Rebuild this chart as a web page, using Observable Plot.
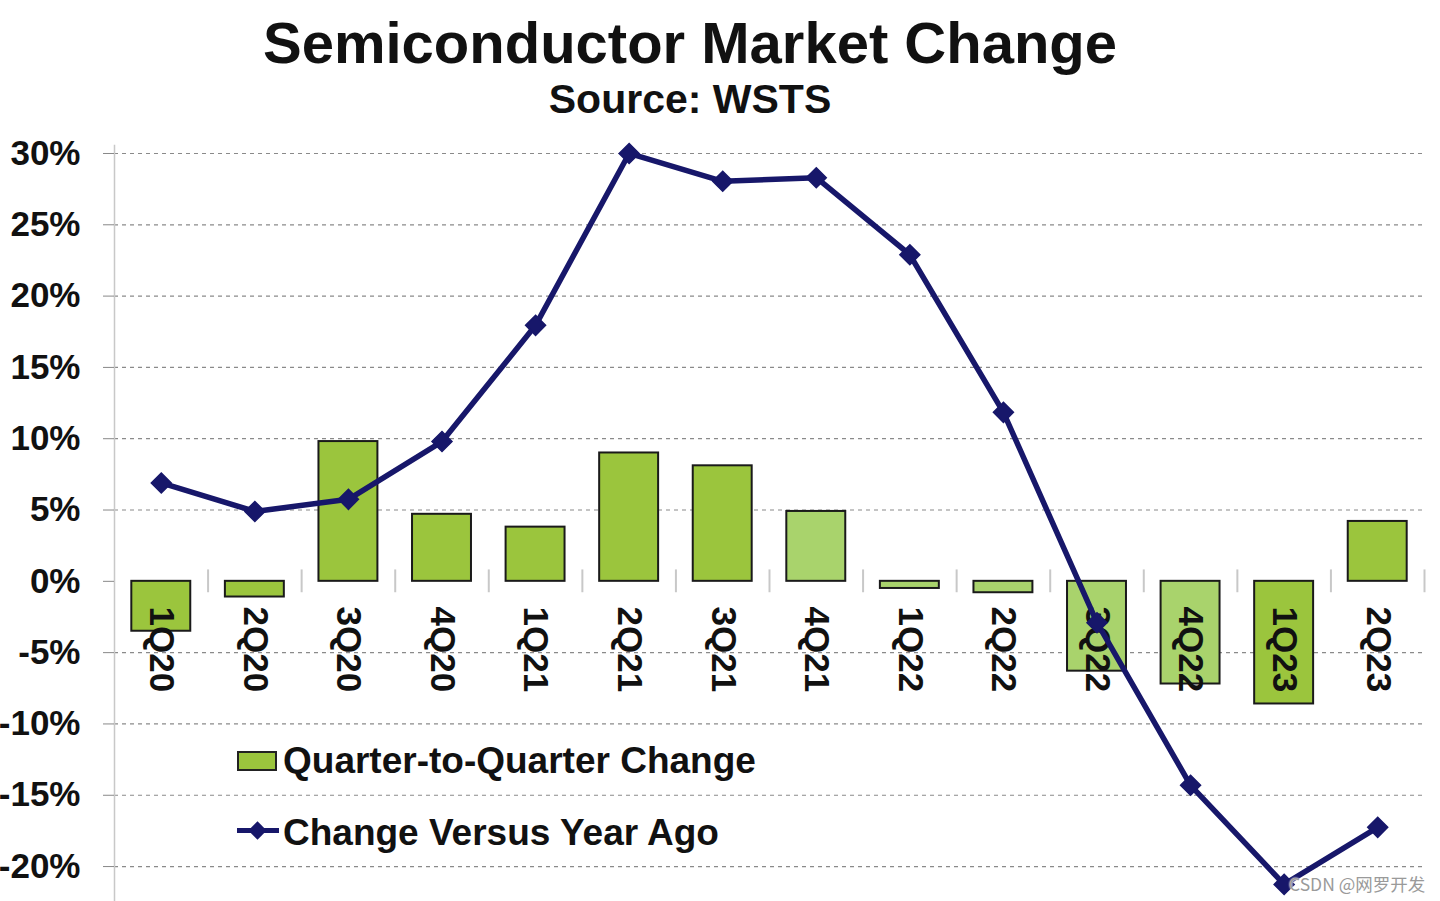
<!DOCTYPE html>
<html>
<head>
<meta charset="utf-8">
<script src="https://cdn.jsdelivr.net/npm/d3@7"></script>
<script src="https://cdn.jsdelivr.net/npm/@observablehq/plot@0.6"></script>
<style>
  body { margin: 0; background: #fff; }
  #wrap { position: relative; width: 1440px; height: 901px; overflow: hidden; font-family: "Liberation Sans", Arial, sans-serif; background: #fff; }
  .title { position: absolute; left: 0; width: 1380px; text-align: center; font-weight: bold; line-height: 1; color: #111; }
  #chart { position: absolute; left: 0; top: 125px; }
  .leg { position: absolute; font-weight: bold; font-size: 37px; line-height: 1; color: #111; white-space: nowrap; }
  #wm { position: absolute; left: 1289px; top: 871px; font-family: "Noto Sans CJK SC", "Noto Sans", sans-serif; font-size: 17.5px; color: #9a9a9a; text-shadow: 0 0 2px #fff, 0 0 2px #fff; }
</style>
</head>
<body>
<div id="wrap">
  <div class="title" id="t1" style="top:14px;font-size:58px;"></div>
  <div class="title" id="t2" style="top:79px;font-size:41px;"></div>
  <div id="chart"></div>
  <div id="legend"></div>
  <div id="wm">CSDN @网罗开发</div>
</div>
<script>
const title = "Semiconductor Market Change";
const subtitle = "Source: WSTS";
const quarters = ["1Q20","2Q20","3Q20","4Q20","1Q21","2Q21","3Q21","4Q21","1Q22","2Q22","3Q22","4Q22","1Q23","2Q23"];
const qoqChange = [-3.5, -1.1, 9.8, 4.7, 3.8, 9.0, 8.1, 4.9, -0.5, -0.8, -6.3, -7.2, -8.6, 4.2];
const yoyChange = [6.9, 4.9, 5.75, 9.8, 17.95, 30.0, 28.05, 28.3, 22.9, 11.85, -2.9, -14.3, -21.25, -17.25];
const yTicks = [-20, -15, -10, -5, 0, 5, 10, 15, 20, 25, 30];
const legendLabels = ["Quarter-to-Quarter Change", "Change Versus Year Ago"];

document.getElementById("t1").textContent = title;
document.getElementById("t2").textContent = subtitle;

const data = quarters.map((q, i) => ({q, qoq: qoqChange[i], yoy: yoyChange[i]}));

const barColor = "#9bc53d";
const barColorLight = "#a9d36c";
const lightSet = new Set(["4Q21","1Q22","2Q22","3Q22","4Q22"]);
const navy = "#17176a";
const font = "'Liberation Sans', Arial, sans-serif";

const width = 1440, height = 776;
const mL = 114, mR = 16;
const step = (width - mL - mR) / quarters.length;

const chart = Plot.plot({
  width, height,
  marginLeft: mL, marginRight: mR, marginTop: 20, marginBottom: 0,
  style: {fontFamily: font, background: "transparent", overflow: "visible"},
  x: {domain: quarters, paddingInner: 0.37, paddingOuter: 0.185, round: false, axis: null},
  y: {domain: [-22.45, 30.56], axis: null},
  marks: [
    Plot.ruleY(yTicks.filter(d => d !== 0), {stroke: "#8a8a8a", strokeWidth: 1.2, strokeDasharray: "4,4"}),
    Plot.frame({anchor: "left", stroke: "#c8c8c8", strokeWidth: 1.5}),
    Plot.axisY({ticks: yTicks, tickFormat: d => d + "%", tickSize: 11, tickPadding: 23, fontSize: 35, fontWeight: "bold", fill: "#111", stroke: "#888", label: null}),
    Plot.ruleX(quarters, {x: d => d, dx: step / 2, y1: -0.8, y2: 0.8, stroke: "#c8c8c8", strokeWidth: 2}),
    Plot.barY(data, {x: "q", y: "qoq", fill: d => lightSet.has(d.q) ? barColorLight : barColor, stroke: "#1a1a1a", strokeWidth: 2}),
    Plot.text(quarters, {x: d => d, y: -4.77, text: d => d, rotate: 90, fontSize: 35, fontWeight: "bold", fill: "#111"}),
    Plot.line(data, {x: "q", y: "yoy", stroke: navy, strokeWidth: 5.5, strokeLinejoin: "round"}),
    Plot.dot(data, {x: "q", y: "yoy", symbol: "diamond2", r: 9, fill: navy, stroke: navy})
  ]
});
document.getElementById("chart").appendChild(chart);

// Legend (inside plot area, lower left)
const leg = document.getElementById("legend");
leg.innerHTML = `
  <div style="position:absolute;left:237px;top:751px;width:40px;height:20px;box-sizing:border-box;background:${barColor};border:2px solid #222;"></div>
  <div class="leg" style="left:283px;top:742px;">${legendLabels[0]}</div>
  <div style="position:absolute;left:237px;top:828px;width:42px;height:5px;background:${navy};"></div>
  <div style="position:absolute;left:251px;top:824px;width:13px;height:13px;background:${navy};transform:rotate(45deg);"></div>
  <div class="leg" style="left:283px;top:814px;">${legendLabels[1]}</div>
`;
</script>
</body>
</html>
